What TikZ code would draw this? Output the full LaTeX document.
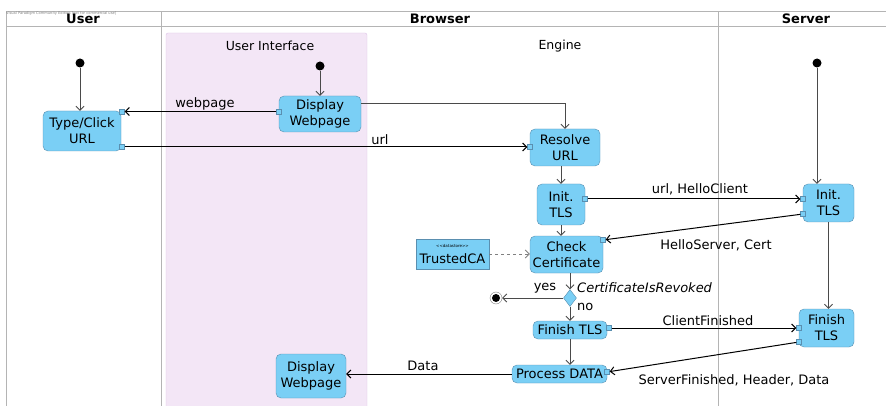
\documentclass[tikz,border=0pt]{standalone}
\usepackage{fontspec}
\setmainfont{DejaVu Sans}
\usetikzlibrary{arrows.meta,shapes.geometric}

\definecolor{act-fill}{HTML}{7ACFF5}
\definecolor{act-line}{HTML}{5A8FB0}
\definecolor{part-fill}{HTML}{F3E6F6}
\definecolor{part-line}{HTML}{DCC3E6}
\definecolor{lane-line}{HTML}{B4B4B4}
\definecolor{flow-line}{HTML}{4A4A4A}

\tikzstyle{action}=[draw={act-line}, fill={act-fill}, rounded corners=5pt, align=center, inner sep=1pt, font=\fontsize{13}{16}\selectfont]
\tikzstyle{pin-box}=[draw={act-line}, fill={act-fill}, minimum size=5pt, inner sep=0pt]
\tikzstyle{start-point}=[circle, fill=black, inner sep=0pt, minimum size=9pt]
\tikzstyle{end-point}=[circle, draw=gray, fill=white, inner sep=0pt, minimum size=12pt, path picture={\fill[black] (path picture bounding box.center) circle (4pt);}]
\tikzstyle{ctrl-flow}=[draw={flow-line}, line width=0.8pt, -{Straight Barb[length=4pt,width=8pt]}]
\tikzstyle{data-flow}=[draw=black, line width=1pt, -{Straight Barb[length=4pt,width=8pt]}]
\tikzstyle{flow-label}=[inner sep=0pt, font=\fontsize{13}{16}\selectfont]
\tikzstyle{lane-title}=[inner sep=0pt, font=\bfseries\fontsize{13}{16}\selectfont]

\begin{document}
\begin{tikzpicture}[x=1pt, y=-1pt]
  \useasboundingbox (0,0) rectangle (886,406);

  % swimlanes
  \draw[lane-line, line width=0.8pt] (6,11.5) -- (886,11.5);
  \draw[lane-line, line width=1.2pt] (6,26.5) -- (886,26.5);
  \draw[lane-line, line width=0.8pt] (6,11.5) -- (6,406);
  \draw[lane-line, line width=0.8pt] (161,11.5) -- (161,406);
  \draw[lane-line, line width=0.8pt] (718,11.5) -- (718,406);
  \node (watermark) at (6,13.5) [anchor=west, inner sep=0pt, text=gray, font=\fontsize{3.6}{4}\selectfont] {Visual Paradigm Community Edition [not for commercial use]};
  \node (lane-user)    at (83,19)  [lane-title] {User};
  \node (lane-browser) at (440,19) [lane-title] {Browser};
  \node (lane-server)  at (806,19) [lane-title] {Server};

  % partitions
  \draw[draw={part-line}, fill={part-fill}, rounded corners=2pt] (166,33) rectangle (367,412);
  \node (part-ui)     at (270,46) [inner sep=0pt, font=\fontsize{12.5}{15}\selectfont] {User Interface};
  \node (part-engine) at (560,46) [inner sep=0pt, font=\fontsize{12.5}{15}\selectfont] {Engine};

  % actions
  \node (start-user)  at (80,63)     [start-point] {};
  \node (user-type)   at (82,131)    [action, minimum width=78pt, minimum height=40pt] {Type/Click\\URL};
  \node (start-ui)    at (320,66)    [start-point] {};
  \node (ui-display)  at (320,114)   [action, minimum width=82pt, minimum height=36pt] {Display\\Webpage};
  \node (ui-show)     at (311,376)   [action, minimum width=70pt, minimum height=44pt] {Display\\Webpage};
  \node (eng-resolve) at (565,147.5) [action, minimum width=70pt, minimum height=37pt] {Resolve\\URL};
  \node (eng-init)    at (561,204.5) [action, minimum width=48pt, minimum height=41pt] {Init.\\TLS};
  \node (eng-ca)      at (452.5,254) [action, sharp corners, minimum width=73pt, minimum height=30pt] {{\fontsize{4}{5}\selectfont <{}<datastore>{}>}\\TrustedCA};
  \node (eng-check)   at (566.5,254.5) [action, minimum width=73pt, minimum height=37pt] {Check\\Certificate};
  \node (eng-revoked) at (570,298)   [diamond, draw={act-line}, fill={act-fill}, inner sep=0pt, minimum width=13pt, minimum height=17pt] {};
  \node (eng-end)     at (496,298)   [end-point] {};
  \node (eng-finish)  at (570,330)   [action, minimum width=74pt, minimum height=18pt] {Finish TLS};
  \node (eng-process) at (559.5,374) [action, minimum width=95pt, minimum height=18pt] {Process DATA};
  \node (start-srv)   at (817,63)    [start-point] {};
  \node (srv-init)    at (828.5,203) [action, minimum width=51pt, minimum height=38pt] {Init.\\TLS};
  \node (srv-finish)  at (826.5,328) [action, minimum width=55pt, minimum height=38pt] {Finish\\TLS};

  % pins
  \node (pin-web-out)   at (279,111.5) [pin-box] {};
  \node (pin-web-in)    at (122,111.5) [pin-box] {};
  \node (pin-url-out)   at (122,147)   [pin-box] {};
  \node (pin-url-in)    at (530,147)   [pin-box] {};
  \node (pin-hello-out) at (585,199)   [pin-box] {};
  \node (pin-hello-in)  at (803,199)   [pin-box] {};
  \node (pin-cert-out)  at (803,214)   [pin-box] {};
  \node (pin-cert-in)   at (603,240)   [pin-box] {};
  \node (pin-cfin-out)  at (609,328)   [pin-box] {};
  \node (pin-cfin-in)   at (799,328)   [pin-box] {};
  \node (pin-sfin-out)  at (799,342)   [pin-box] {};
  \node (pin-sfin-in)   at (607,372)   [pin-box] {};

  % flows
  \draw[ctrl-flow] (start-user) -- (start-user |- user-type.north);
  \draw[ctrl-flow] (start-ui) -- (start-ui |- ui-display.north);
  \draw[ctrl-flow] (start-srv) -- (start-srv |- srv-init.north);
  \draw[data-flow] (pin-web-out) -- (pin-web-in);
  \draw[data-flow] (pin-url-out) -- (pin-url-in);
  \draw[ctrl-flow] ([yshift=11pt]ui-display.east) -| (eng-resolve.north);
  \draw[ctrl-flow] (eng-resolve.south -| eng-init.north) -- (eng-init.north);
  \draw[data-flow] (pin-hello-out) -- (pin-hello-in);
  \draw[data-flow] (pin-cert-out) -- (pin-cert-in);
  \draw[ctrl-flow] (eng-init.south) -- (eng-init.south |- eng-check.north);
  \draw[ctrl-flow, dashed, draw=gray] (eng-ca.east) -- (eng-ca.east -| eng-check.west);
  \draw[ctrl-flow] (eng-check.south -| eng-revoked.north) -- (eng-revoked.north);
  \draw[ctrl-flow] (eng-revoked.west) -- (eng-end);
  \draw[ctrl-flow] (eng-revoked.south) -- (eng-revoked.south |- eng-finish.north);
  \draw[ctrl-flow] (srv-init.south) -- (srv-init.south |- srv-finish.north);
  \draw[data-flow] (pin-cfin-out) -- (pin-cfin-in);
  \draw[data-flow] (pin-sfin-out) -- (pin-sfin-in);
  \draw[ctrl-flow] (eng-finish.south) -- (eng-finish.south |- eng-process.north);
  \draw[data-flow] (eng-process.west) -- (eng-process.west -| ui-show.east);

  % labels
  \node (lbl-webpage) at (205,104) [flow-label] {webpage};
  \node (lbl-url)     at (380,140) [flow-label] {url};
  \node (lbl-hello)   at (700,189) [flow-label] {url, HelloClient};
  \node (lbl-cert)    at (716,245) [flow-label] {HelloServer, Cert};
  \node (lbl-yes)     at (545,288) [flow-label] {yes};
  \node (lbl-guard)   at (577,288) [flow-label, anchor=west, font=\itshape\fontsize{13}{16}\selectfont] {CertificateIsRevoked};
  \node (lbl-no)      at (577,307) [flow-label, anchor=west] {no};
  \node (lbl-cfin)    at (708,321) [flow-label] {ClientFinished};
  \node (lbl-sfin)    at (734,380) [flow-label] {ServerFinished, Header, Data};
  \node (lbl-data)    at (423,366) [flow-label] {Data};
\end{tikzpicture}
\end{document}
